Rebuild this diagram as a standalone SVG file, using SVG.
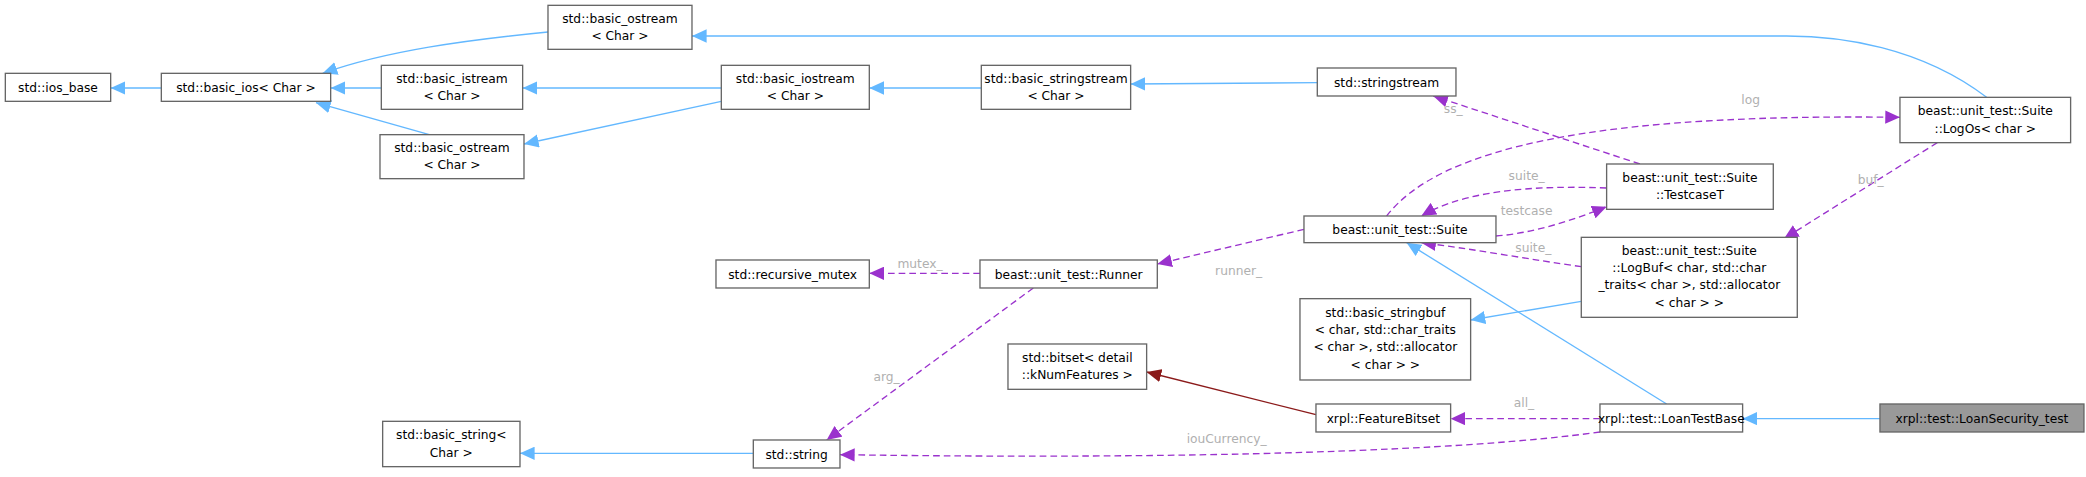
<svg xmlns="http://www.w3.org/2000/svg" width="2086" height="477" viewBox="0 0 2086 477">
<style>
.n rect{fill:#fff;stroke:#666;stroke-width:1}
.n text,.l{font-family:"DejaVu Sans",sans-serif;font-size:9.2px;text-anchor:middle;fill:#000}
.l{fill:#b0b0b0}
.b{fill:none;stroke:#63b8ff;stroke-width:1;marker-end:url(#ab)}
.p{fill:none;stroke:#9a32cd;stroke-width:1;stroke-dasharray:5,3;marker-end:url(#ap)}
.r{fill:none;stroke:#8b1a1a;stroke-width:1;marker-end:url(#ar)}
</style>
<defs>
<marker id="ab" markerUnits="userSpaceOnUse" markerWidth="12" markerHeight="10" refX="11" refY="5" orient="auto"><path d="M0,0L11,5L0,10z" fill="#63b8ff"/></marker>
<marker id="ap" markerUnits="userSpaceOnUse" markerWidth="12" markerHeight="10" refX="11" refY="5" orient="auto"><path d="M0,0L11,5L0,10z" fill="#9a32cd"/></marker>
<marker id="ar" markerUnits="userSpaceOnUse" markerWidth="12" markerHeight="10" refX="11" refY="5" orient="auto"><path d="M0,0L11,5L0,10z" fill="#8b1a1a"/></marker>
</defs>
<rect width="2086" height="477" fill="#fff"/>
<g transform="scale(1.3333)">
<g id="edges">
<path class="b" d="M121,66L83,66"/>
<path class="b" d="M286,66L248,66"/>
<path class="b" d="M322,101L237,77"/>
<path class="b" d="M411,24C350,30 290,38 242,55"/>
<path class="b" d="M541,66L392,66"/>
<path class="b" d="M541,76L393,108"/>
<path class="b" d="M736,66L652,66"/>
<path class="b" d="M988,62L848,63"/>
<path class="b" d="M1490,73C1440,35 1380,27 1340,27L519,27"/>
<path class="b" d="M1186,226L1103,240"/>
<path class="b" d="M1250,303L1055,182"/>
<path class="b" d="M1410,314L1307,314"/>
<path class="b" d="M565,340L390,340"/>
<path class="r" d="M987,311L860,279"/>
<path class="p" d="M1230,123L1075,72"/>
<path class="p" d="M1040,162C1080,110 1200,85 1425,88"/>
<path class="p" d="M1205,141C1130,138 1090,148 1066,162"/>
<path class="p" d="M1122,177C1150,175 1180,165 1205,155"/>
<path class="p" d="M1453,107L1338,179"/>
<path class="p" d="M1186,200C1150,195 1100,186 1066,182"/>
<path class="p" d="M978,172L868,198"/>
<path class="p" d="M735,205L652,205"/>
<path class="p" d="M775,216L620,330"/>
<path class="p" d="M1200,314L1088,314"/>
<path class="p" d="M1200,324C1100,338 900,345 630,341"/>
</g>
<g id="labels">
<text class="l" x="1090" y="85">ss_</text>
<text class="l" x="1313" y="78">log</text>
<text class="l" x="1145" y="135">suite_</text>
<text class="l" x="1145" y="161">testcase</text>
<text class="l" x="1403" y="138">buf_</text>
<text class="l" x="929" y="206">runner_</text>
<text class="l" x="1150" y="189">suite_</text>
<text class="l" x="690" y="201">mutex_</text>
<text class="l" x="665" y="286">arg_</text>
<text class="l" x="1143" y="305">all_</text>
<text class="l" x="920" y="332">iouCurrency_</text>
</g>
<g id="ios_base" class="n"><rect x="4" y="55" width="79" height="21"/><text x="43.5" y="69">std::ios_base</text></g>
<g id="basic_ios" class="n"><rect x="121" y="55" width="127" height="21"/><text x="184.5" y="69">std::basic_ios&lt; Char &gt;</text></g>
<g id="basic_istream" class="n"><rect x="286" y="49" width="106" height="33"/><text x="339" y="62">std::basic_istream</text><text x="339" y="75">&lt; Char &gt;</text></g>
<g id="basic_ostream2" class="n"><rect x="285" y="101" width="108" height="33"/><text x="339" y="114">std::basic_ostream</text><text x="339" y="127">&lt; Char &gt;</text></g>
<g id="basic_ostream1" class="n"><rect x="411" y="4" width="108" height="33"/><text x="465" y="17">std::basic_ostream</text><text x="465" y="30">&lt; Char &gt;</text></g>
<g id="basic_iostream" class="n"><rect x="541" y="49" width="111" height="33"/><text x="596.5" y="62">std::basic_iostream</text><text x="596.5" y="75">&lt; Char &gt;</text></g>
<g id="basic_stringstream" class="n"><rect x="736" y="49" width="112" height="33"/><text x="792" y="62">std::basic_stringstream</text><text x="792" y="75">&lt; Char &gt;</text></g>
<g id="stringstream" class="n"><rect x="988" y="51" width="104" height="21"/><text x="1040" y="65">std::stringstream</text></g>
<g id="LogOs" class="n"><rect x="1425" y="73" width="128" height="34"/><text x="1489" y="86.5">beast::unit_test::Suite</text><text x="1489" y="99.5">::LogOs&lt; char &gt;</text></g>
<g id="TestcaseT" class="n"><rect x="1205" y="123" width="125" height="34"/><text x="1267.5" y="136.5">beast::unit_test::Suite</text><text x="1267.5" y="149.5">::TestcaseT</text></g>
<g id="Suite" class="n"><rect x="978" y="162" width="144" height="20"/><text x="1050" y="175.5">beast::unit_test::Suite</text></g>
<g id="LogBuf" class="n"><rect x="1186" y="178" width="162" height="60"/><text x="1267" y="191">beast::unit_test::Suite</text><text x="1267" y="204">::LogBuf&lt; char, std::char</text><text x="1267" y="217">_traits&lt; char &gt;, std::allocator</text><text x="1267" y="230">&lt; char &gt; &gt;</text></g>
<g id="basic_stringbuf" class="n"><rect x="975" y="224" width="128" height="61"/><text x="1039" y="237.5">std::basic_stringbuf</text><text x="1039" y="250.5">&lt; char, std::char_traits</text><text x="1039" y="263.5">&lt; char &gt;, std::allocator</text><text x="1039" y="276.5">&lt; char &gt; &gt;</text></g>
<g id="recursive_mutex" class="n"><rect x="537" y="195" width="115" height="21"/><text x="594.5" y="209">std::recursive_mutex</text></g>
<g id="Runner" class="n"><rect x="735" y="195" width="133" height="21"/><text x="801.5" y="209">beast::unit_test::Runner</text></g>
<g id="bitset" class="n"><rect x="756" y="258" width="104" height="34"/><text x="808" y="271.5">std::bitset&lt; detail</text><text x="808" y="284.5">::kNumFeatures &gt;</text></g>
<g id="FeatureBitset" class="n"><rect x="987" y="303" width="101" height="21"/><text x="1037.5" y="317">xrpl::FeatureBitset</text></g>
<g id="LoanTestBase" class="n"><rect x="1200" y="303" width="107" height="21"/><text x="1253.5" y="317">xrpl::test::LoanTestBase</text></g>
<g id="LoanSecurity_test" class="n"><rect x="1410" y="303" width="153" height="21" style="fill:#999"/><text x="1486.5" y="317">xrpl::test::LoanSecurity_test</text></g>
<g id="basic_string" class="n"><rect x="287" y="316" width="103" height="34"/><text x="338.5" y="329.5">std::basic_string&lt;</text><text x="338.5" y="342.5">Char &gt;</text></g>
<g id="string" class="n"><rect x="565" y="330" width="65" height="21"/><text x="597.5" y="344">std::string</text></g>
</g>
</svg>
